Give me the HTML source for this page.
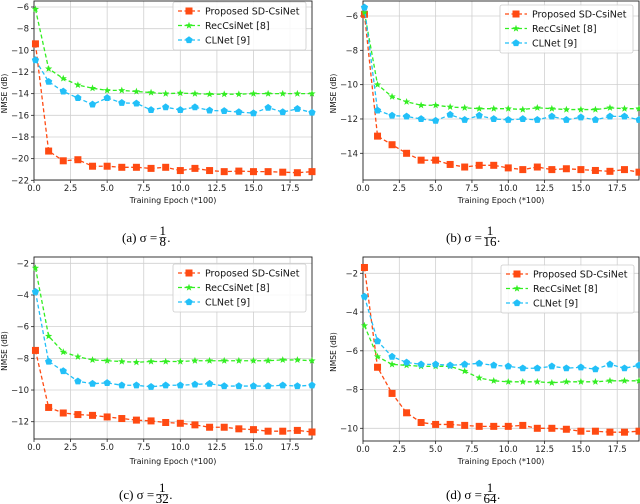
<!DOCTYPE html>
<html><head><meta charset="utf-8">
<style>
html,body{margin:0;padding:0;background:#fff;}
svg{display:block;font-family:"DejaVu Sans","Liberation Sans",sans-serif;}
.tick{font-size:8.5px;fill:#222;}
.cap{font-family:"Liberation Serif",serif;font-size:13px;fill:#000;}
</style></head>
<body>
<svg id="fig" width="640" height="504" viewBox="0 0 640 504"></svg>
<script>
const epochs=[0.1,1,2,3,4,5,6,7,8,9,10,11,12,13,14,15,16,17,18,19];
const xTicks=[0,2.5,5,7.5,10,12.5,15,17.5];
const xTickLabels=["0.0","2.5","5.0","7.5","10.0","12.5","15.0","17.5"];
const seriesNames=["Proposed SD-CsiNet","RecCsiNet [8]","CLNet [9]"];
const captions=["(a)","(b)","(c)","(d)"];
const sigmaDen=["8","16","32","64"];

const aRed=[-9.4,-19.3,-20.2,-20.1,-20.7,-20.7,-20.8,-20.8,-20.9,-20.8,-21.1,-20.9,-21.1,-21.2,-21.15,-21.2,-21.2,-21.25,-21.3,-21.2];
const aGreen=[-6.2,-11.7,-12.6,-13.2,-13.5,-13.7,-13.7,-13.8,-13.9,-14.0,-13.95,-14.0,-14.05,-14.05,-14.05,-14.0,-14.0,-14.0,-14.0,-14.0];
const aBlue=[-10.9,-12.9,-13.8,-14.4,-15.0,-14.4,-14.85,-14.9,-15.5,-15.25,-15.5,-15.25,-15.55,-15.6,-15.7,-15.8,-15.3,-15.7,-15.4,-15.75];
const aTicks=[-6,-8,-10,-12,-14,-16,-18,-20,-22];

const bRed=[-5.9,-13.0,-13.5,-14.0,-14.4,-14.4,-14.65,-14.8,-14.7,-14.7,-14.85,-14.95,-14.8,-14.95,-14.9,-14.95,-15.0,-15.05,-14.95,-15.1];
const bGreen=[-5.8,-10.0,-10.7,-11.0,-11.2,-11.2,-11.3,-11.35,-11.4,-11.4,-11.4,-11.45,-11.35,-11.4,-11.45,-11.45,-11.45,-11.35,-11.4,-11.4];
const bBlue=[-5.5,-11.5,-11.8,-11.85,-12.0,-12.1,-11.75,-12.05,-11.8,-12.0,-12.05,-12.0,-12.05,-11.85,-12.05,-11.9,-12.05,-11.85,-11.85,-12.05];
const bTicks=[-6,-8,-10,-12,-14];

const cRed=[-7.5,-11.1,-11.45,-11.55,-11.6,-11.7,-11.8,-11.9,-11.95,-12.05,-12.1,-12.2,-12.35,-12.35,-12.45,-12.5,-12.6,-12.6,-12.55,-12.65];
const cGreen=[-2.3,-6.6,-7.6,-7.9,-8.1,-8.15,-8.2,-8.25,-8.2,-8.2,-8.2,-8.15,-8.15,-8.15,-8.15,-8.15,-8.15,-8.1,-8.1,-8.15];
const cBlue=[-3.8,-8.2,-8.8,-9.45,-9.6,-9.55,-9.7,-9.7,-9.8,-9.7,-9.7,-9.65,-9.6,-9.75,-9.75,-9.75,-9.75,-9.7,-9.75,-9.7];
const cTicks=[-2,-4,-6,-8,-10,-12];

const dRed=[-1.7,-6.85,-8.2,-9.2,-9.7,-9.8,-9.8,-9.85,-9.9,-9.9,-9.9,-9.85,-10.0,-10.0,-10.05,-10.15,-10.15,-10.2,-10.2,-10.15];
const dGreen=[-4.7,-6.3,-6.7,-6.75,-6.8,-6.8,-6.8,-7.05,-7.4,-7.55,-7.6,-7.6,-7.6,-7.65,-7.6,-7.6,-7.6,-7.55,-7.55,-7.55];
const dBlue=[-3.2,-5.5,-6.3,-6.6,-6.7,-6.7,-6.75,-6.7,-6.65,-6.75,-6.8,-6.9,-6.9,-6.8,-6.9,-6.85,-6.95,-6.7,-6.9,-6.75];
const dTicks=[-2,-4,-6,-8,-10];

const NS="http://www.w3.org/2000/svg";
const svg=document.getElementById('fig');
const colors=["#ff4a12","#33ee22","#22c0f8"];
function mk(tag,attrs,parent){const e=document.createElementNS(NS,tag);for(const k in attrs)e.setAttribute(k,attrs[k]);(parent||svg).appendChild(e);return e;}

const panels=[
 {L:34,R:312,T:1,B:180,y0:-6,py0:7,y1:-22,py1:180.3,ticks:aTicks,s:[aRed,aGreen,aBlue],leg:[173,2],yl:4,xl:200,cy:242,cx:122},
 {L:363,R:639,T:1,B:180,y0:-6,py0:16,y1:-14,py1:153.3,ticks:bTicks,s:[bRed,bGreen,bBlue],leg:[500,5],yl:333,xl:200,cy:242,cx:446},
 {L:34,R:312,T:257,B:439,y0:-2,py0:263.3,y1:-12,py1:421.7,ticks:cTicks,s:[cRed,cGreen,cBlue],leg:[173,264],yl:4,xl:461,cy:499,cx:119},
 {L:363,R:639,T:257,B:441,y0:-2,py0:273.3,y1:-10,py1:428.3,ticks:dTicks,s:[dRed,dGreen,dBlue],leg:[501,265],yl:333,xl:461,cy:499,cx:446}
];

function marker(g,type,x,y,c){
  let m;
  if(type===0){m=mk('rect',{x:x-3.5,y:y-3.5,width:7,height:7,fill:c},g);}
  else if(type===1){
    let p=[];for(let i=0;i<10;i++){const r=i%2?1.6:3.8;const a=-Math.PI/2+i*Math.PI/5;p.push((x+r*Math.cos(a)).toFixed(2)+","+(y+r*Math.sin(a)).toFixed(2));}
    m=mk('polygon',{points:p.join(" "),fill:c},g);
  } else {
    let p=[];for(let i=0;i<5;i++){const a=-Math.PI/2+i*2*Math.PI/5;p.push((x+3.8*Math.cos(a)).toFixed(2)+","+(y+3.8*Math.sin(a)).toFixed(2));}
    m=mk('polygon',{points:p.join(" "),fill:c},g);
  }
  return m;
}

panels.forEach((P,pi)=>{
  const g=mk('g',{});
  
  
  const sx=v=>P.L+(v-0)/(19-0)*(P.R-P.L);
  const sy=v=>P.py0+(v-P.y0)/(P.y1-P.y0)*(P.py1-P.py0);
  xTicks.forEach((t,i)=>{
    const x=sx(t);
    const gl=mk('line',{x1:x,x2:x,y1:P.T,y2:P.B,stroke:"#d0d0d0","stroke-width":0.8},g);
    
    
    mk('line',{x1:x,x2:x,y1:P.B,y2:P.B+3,stroke:"#222","stroke-width":0.8},g);
    const tl=mk('text',{x:x,y:P.B+11,"text-anchor":"middle",class:"tick"},g);
    tl.textContent=xTickLabels[i];
    
    
  });
  P.ticks.forEach(t=>{
    const y=sy(t);
    const gl=mk('line',{x1:P.L,x2:P.R,y1:y,y2:y,stroke:"#d0d0d0","stroke-width":0.8},g);
    
    
    mk('line',{x1:P.L-3,x2:P.L,y1:y,y2:y,stroke:"#222","stroke-width":0.8},g);
    const tl=mk('text',{x:P.L-5,y:y+3,"text-anchor":"end",class:"tick"},g);
    tl.textContent="\u2212"+Math.abs(t);
    
    
  });
  const ax=mk('rect',{x:P.L,y:P.T,width:P.R-P.L,height:P.B-P.T,fill:"none",stroke:"#222","stroke-width":0.9},g);
  
  
  P.s.forEach((arr,si)=>{
    const pts=arr.map((v,i)=>sx(epochs[i]).toFixed(2)+","+sy(v).toFixed(2)).join(" ");
    const pl=mk('polyline',{points:pts,fill:"none",stroke:colors[si],"stroke-width":1.3,"stroke-dasharray":"4,2.5"},g);
    
    
    arr.forEach((v,i)=>{
      const m=marker(g,si,sx(epochs[i]),sy(v),colors[si]);
      
      
    });
  });
  const lg=mk('g',{},g);
  
  
  const [lx,ly]=P.leg;
  mk('rect',{x:lx,y:ly,width:133,height:48,fill:"#fff","fill-opacity":0.85,stroke:"#ccc","stroke-width":0.8,rx:2},lg);
  seriesNames.forEach((n,si)=>{
    const yy=ly+9+si*14.5;
    const e=mk('g',{},lg);
    
    
    mk('line',{x1:lx+5,x2:lx+27,y1:yy,y2:yy,stroke:colors[si],"stroke-width":1.3,"stroke-dasharray":"4,2.5"},e);
    marker(e,si,lx+16,yy,colors[si]);
    const t=mk('text',{x:lx+32,y:yy+3.5,"font-size":"9.5px",fill:"#111"},e);
    t.textContent=n;
  });
  const yl=mk('text',{x:P.yl,y:(P.T+P.B)/2,"font-size":"7.5px",fill:"#111","text-anchor":"middle",transform:"rotate(-90 "+(P.yl+3)+" "+((P.T+P.B)/2)+")"},g);
  yl.textContent="NMSE (dB)";
  
  
  const xl=mk('text',{x:(P.L+P.R)/2,y:P.xl+3,"font-size":"8px",fill:"#111","text-anchor":"middle"},g);
  xl.textContent="Training Epoch (*100)";
  
  
  const cg=mk('g',{},g);
  
  
  const ct=mk('text',{x:P.cx,y:P.cy,class:"cap"},cg);
  ct.textContent=captions[pi]+"  \u03C3 = ";
  const w=ct.getComputedTextLength();
  const fx=P.cx+w+2;
  const fw=sigmaDen[pi].length*5+2;
  const n1=mk('text',{x:fx+fw/2,y:P.cy-7,class:"cap","font-size":"8.5px","text-anchor":"middle"},cg);n1.textContent="1";
  mk('line',{x1:fx,x2:fx+fw,y1:P.cy-4.5,y2:P.cy-4.5,stroke:"#000","stroke-width":0.6},cg);
  const d1=mk('text',{x:fx+fw/2,y:P.cy+4,class:"cap","font-size":"8.5px","text-anchor":"middle"},cg);d1.textContent=sigmaDen[pi];
  const dot=mk('text',{x:fx+fw+1,y:P.cy,class:"cap"},cg);dot.textContent=".";
});
</script>
</body></html>
